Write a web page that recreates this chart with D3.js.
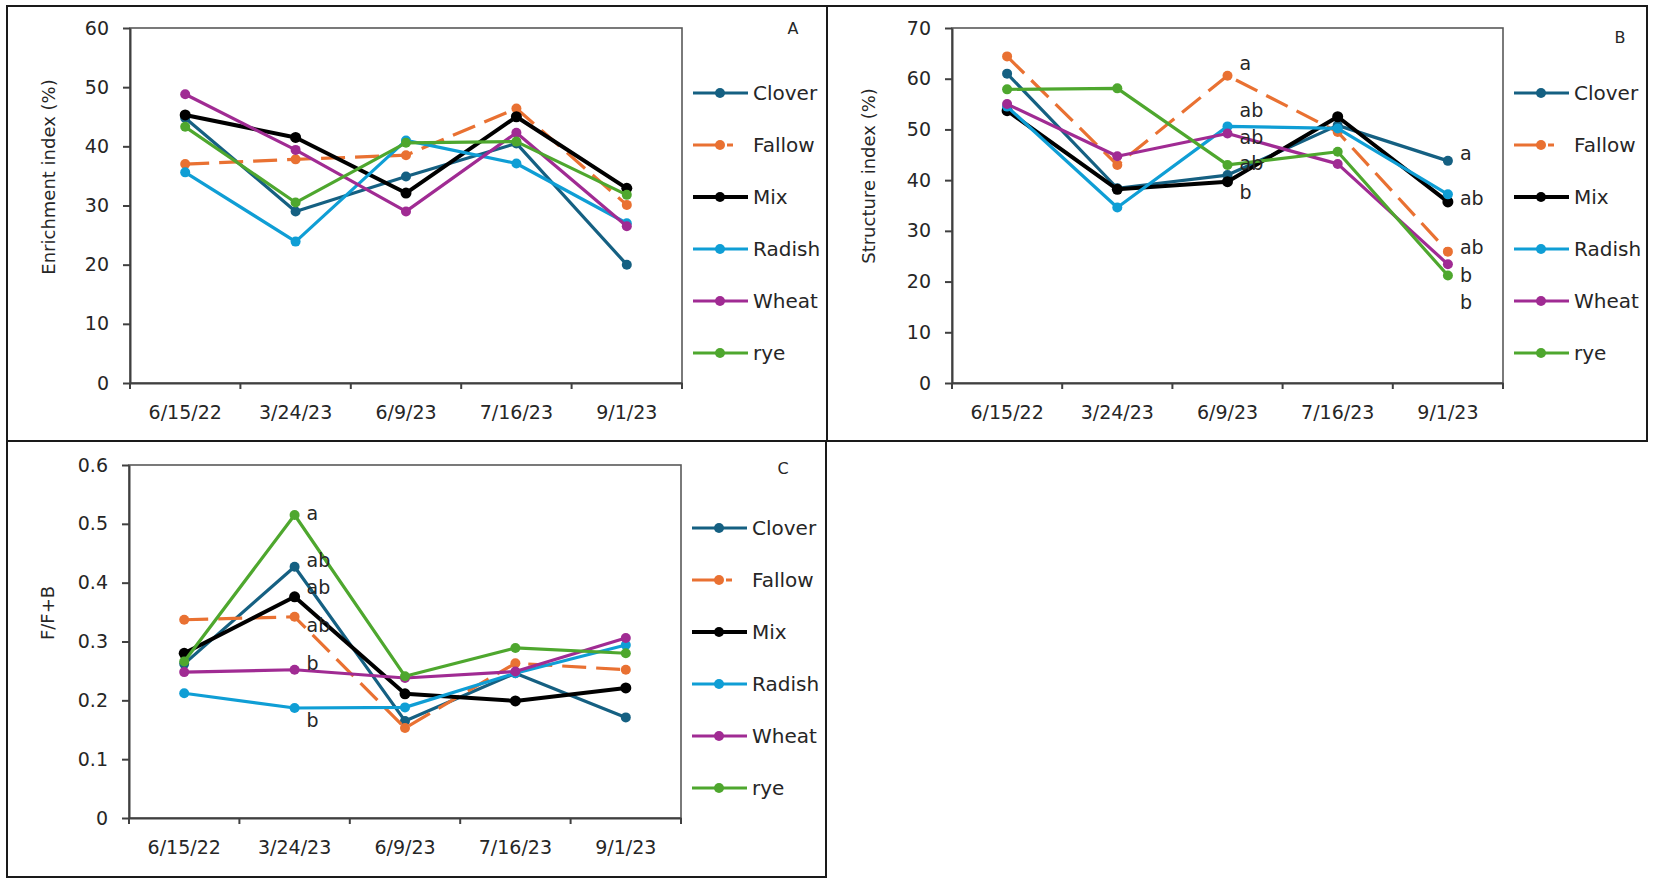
<!DOCTYPE html>
<html>
<head>
  <meta charset="utf-8">
  <script src="https://d3js.org/d3.v7.min.js"></script>
  <style type="text/css">
    body { margin: 0; background: #fff; }
    text { font-family: "DejaVu Sans", sans-serif; fill: #262626; }
  </style>
</head>
<body>
<script type="text/javascript">
  // sampling dates and treatments
  var dates = ["6/15/22", "3/24/23", "6/9/23", "7/16/23", "9/1/23"];
  var treatments = ["Clover", "Fallow", "Mix", "Radish", "Wheat", "rye"];
  var colors = ["#156082", "#E97132", "#000000", "#0F9ED5", "#A02B93", "#4EA72E"];

  // A - enrichment index (%), one row per treatment
  var enrichment = [
    [44.8, 29.0, 34.9, 40.5, 20.0],
    [37.0, 37.8, 38.5, 46.4, 30.1],
    [45.3, 41.5, 32.1, 45.0, 32.9],
    [35.6, 23.9, 41.0, 37.1, 27.0],
    [48.8, 39.4, 29.0, 42.3, 26.5],
    [43.3, 30.5, 40.6, 40.8, 31.8]
  ];

  // B - structure index (%)
  var structure = [
    [61.0, 38.4, 41.0, 50.8, 43.8],
    [64.4, 43.0, 60.6, 49.5, 25.9],
    [53.7, 38.2, 39.7, 52.5, 35.7],
    [54.5, 34.6, 50.6, 50.2, 37.2],
    [55.0, 44.7, 49.2, 43.2, 23.4],
    [57.9, 58.1, 43.0, 45.6, 21.2]
  ];

  // C - F/F+B
  var fungal = [
    [0.262, 0.427, 0.165, 0.246, 0.171],
    [0.337, 0.342, 0.153, 0.263, 0.252],
    [0.280, 0.376, 0.211, 0.199, 0.221],
    [0.212, 0.187, 0.188, 0.246, 0.294],
    [0.248, 0.252, 0.238, 0.249, 0.306],
    [0.266, 0.515, 0.241, 0.289, 0.280]
  ];

  // significance letters: date, value level, letter
  var structureLetters = [
    ["6/9/23", 63.1, "a"], ["6/9/23", 53.8, "ab"], ["6/9/23", 48.5, "ab"],
    ["6/9/23", 43.4, "ab"], ["6/9/23", 37.7, "b"],
    ["9/1/23", 45.4, "a"], ["9/1/23", 36.5, "ab"], ["9/1/23", 26.8, "ab"],
    ["9/1/23", 21.3, "b"], ["9/1/23", 16.0, "b"]
  ];
  var fungalLetters = [
    ["3/24/23", 0.518, "a"], ["3/24/23", 0.439, "ab"], ["3/24/23", 0.393, "ab"],
    ["3/24/23", 0.328, "ab"], ["3/24/23", 0.263, "b"], ["3/24/23", 0.167, "b"]
  ];

  var svg = d3.select("body").append("svg")
      .attr("width", 1654)
      .attr("height", 885);

  function drawPanel(p) {
    var g = svg.append("g");

    // outer frame of the panel
    g.append("rect")
      .attr("x", p.box[0]).attr("y", p.box[1])
      .attr("width", p.box[2] - p.box[0]).attr("height", p.box[3] - p.box[1])
      .attr("fill", "none").attr("stroke", "#1a1a1a").attr("stroke-width", 2);

    var x = d3.scaleBand().domain(dates).range([p.plot[0], p.plot[2]]);
    var y = d3.scaleLinear().domain([0, p.max]).range([p.plot[3], p.plot[1]]);
    var cx = function(d) { return x(d) + x.bandwidth() / 2; };

    // plot area frame
    g.append("rect")
      .attr("x", p.plot[0]).attr("y", p.plot[1])
      .attr("width", p.plot[2] - p.plot[0]).attr("height", p.plot[3] - p.plot[1])
      .attr("fill", "none").attr("stroke", "#595959").attr("stroke-width", 1.6);

    // y axis
    var ya = g.append("g")
      .attr("transform", "translate(" + p.plot[0] + ",0)")
      .call(d3.axisLeft(y).ticks(p.nt).tickSize(7).tickSizeOuter(0).tickPadding(14).tickFormat(p.fmt));
    ya.select(".domain").attr("stroke", "#404040").attr("stroke-width", 2);
    ya.selectAll(".tick line").attr("stroke", "#404040").attr("stroke-width", 2);
    ya.selectAll(".tick text").style("font-size", "19px").attr("fill", "#262626")
      .style("font-family", "DejaVu Sans");

    // x axis, labels centred, ticks between categories
    var xa = g.append("g")
      .attr("transform", "translate(0," + p.plot[3] + ")")
      .call(d3.axisBottom(x).tickSize(0).tickPadding(23));
    xa.select(".domain").attr("stroke", "#404040").attr("stroke-width", 2);
    xa.selectAll(".tick text").style("font-size", "19px").attr("fill", "#262626")
      .style("font-family", "DejaVu Sans");
    g.selectAll(".xtick")
      .data(d3.range(dates.length + 1))
      .join("line")
      .attr("x1", function(i) { return p.plot[0] + i * x.step(); })
      .attr("x2", function(i) { return p.plot[0] + i * x.step(); })
      .attr("y1", p.plot[3]).attr("y2", p.plot[3] + 6)
      .attr("stroke", "#404040").attr("stroke-width", 2);

    // y title
    g.append("text")
      .attr("transform", "translate(" + p.title[0] + "," + p.title[1] + ") rotate(-90)")
      .attr("text-anchor", "middle")
      .attr("dominant-baseline", "central")
      .style("font-size", "18px")
      .text(p.yTitle);

    // panel letter
    g.append("text")
      .attr("x", p.tag[0]).attr("y", p.tag[1])
      .attr("text-anchor", "middle").attr("dominant-baseline", "central")
      .style("font-size", "16px")
      .text(p.tagText);

    // series
    var line = d3.line()
      .x(function(d, i) { return cx(dates[i]); })
      .y(function(d) { return y(d); });

    p.values.forEach(function(vals, k) {
      g.append("path")
        .datum(vals)
        .attr("d", line)
        .attr("fill", "none")
        .attr("stroke", colors[k])
        .attr("stroke-width", k == 2 ? 4 : 3.2)
        .attr("stroke-linejoin", "round")
        .attr("stroke-dasharray", k == 1 ? "24,10" : null);
      g.selectAll(".pt" + k)
        .data(vals)
        .join("circle")
        .attr("cx", function(d, i) { return cx(dates[i]); })
        .attr("cy", function(d) { return y(d); })
        .attr("r", k == 2 ? 5.5 : 5)
        .attr("fill", colors[k]);
    });

    // significance letters
    if (p.letters) {
      g.selectAll(".letter")
        .data(p.letters)
        .join("text")
        .attr("x", function(d) { return cx(d[0]) + 12; })
        .attr("y", function(d) { return y(d[1]); })
        .attr("dominant-baseline", "central")
        .style("font-size", "19px")
        .attr("fill", "#3a3a3a")
        .text(function(d) { return d[2]; });
    }

    // legend
    var lx = p.plot[2] + 11;
    treatments.forEach(function(t, k) {
      var ly = p.box[1] + 87 + k * 52;
      g.append("line")
        .attr("x1", lx).attr("x2", k == 1 ? lx + 40 : lx + 55)
        .attr("y1", ly).attr("y2", ly)
        .attr("stroke", colors[k])
        .attr("stroke-width", k == 2 ? 4 : 3.2)
        .attr("stroke-dasharray", k == 1 ? "24,10" : null);
      g.append("circle")
        .attr("cx", lx + 27).attr("cy", ly)
        .attr("r", 5).attr("fill", colors[k]);
      g.append("text")
        .attr("x", lx + 60).attr("y", ly)
        .attr("dominant-baseline", "central")
        .style("font-size", "20px")
        .text(t);
    });
  }

  drawPanel({
    box: [7, 6, 827, 441], plot: [130, 28, 682, 383],
    max: 60, nt: 6, fmt: d3.format("d"),
    values: enrichment, yTitle: "Enrichment index (%)", title: [48, 177],
    tag: [793, 28], tagText: "A"
  });

  drawPanel({
    box: [827, 6, 1647, 441], plot: [952, 28, 1503, 383],
    max: 70, nt: 7, fmt: d3.format("d"),
    values: structure, yTitle: "Structure index (%)", title: [868, 176],
    tag: [1620, 37], tagText: "B", letters: structureLetters
  });

  drawPanel({
    box: [7, 441, 826, 877], plot: [129, 465, 681, 818],
    max: 0.6, nt: 6, fmt: function(d) { return d === 0 ? "0" : d3.format(".1f")(d); },
    values: fungal, yTitle: "F/F+B", title: [47, 613],
    tag: [783, 468], tagText: "C", letters: fungalLetters
  });
</script>
</body>
</html>
